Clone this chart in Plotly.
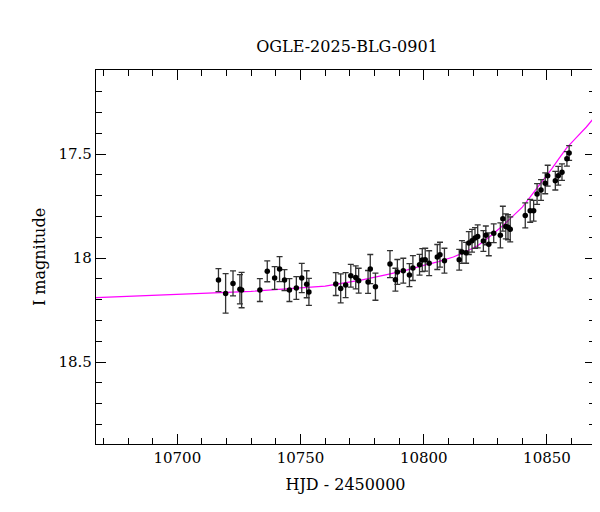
import plotly.graph_objects as go

# Photometry (HJD - 2450000, I mag, error)
hjd = [10716.7, 10719.6, 10722.6, 10725.4, 10726.1, 10733.5, 10736.5, 10739.5, 10741.5, 10743.5,
       10745.5, 10748.3, 10750.5, 10752.5, 10753.4, 10764.3, 10766.3, 10768.3, 10770.4, 10772.4,
       10773.6, 10777.4, 10778.3, 10780.4, 10786.3, 10788.5, 10789.3, 10791.7, 10794.2, 10795.6,
       10798.3, 10799.4, 10800.6, 10802.2, 10805.5, 10806.6, 10808.4, 10814.4, 10815.5, 10817.2,
       10818.3, 10819.6, 10820.8, 10821.9, 10824.2, 10825.2, 10826.4, 10828.4, 10831.1, 10832.1,
       10833.3, 10834.2, 10835.1, 10841.2, 10843.2, 10844.6, 10846.0, 10847.6, 10849.3, 10850.3,
       10853.4, 10854.6, 10856.1, 10858.1, 10859.0]
mag = [18.106, 18.170, 18.122, 18.150, 18.154, 18.154, 18.064, 18.096, 18.053, 18.106,
       18.154, 18.144, 18.096, 18.126, 18.163, 18.125, 18.146, 18.130, 18.085, 18.093,
       18.109, 18.115, 18.053, 18.138, 18.029, 18.104, 18.067, 18.061, 18.082, 18.048,
       18.032, 18.010, 18.008, 18.025, 17.995, 17.984, 18.013, 18.008, 17.971, 17.975,
       17.928, 17.917, 17.904, 17.896, 17.918, 17.891, 17.934, 17.881, 17.891, 17.811,
       17.848, 17.852, 17.862, 17.795, 17.773, 17.773, 17.692, 17.673, 17.641, 17.604,
       17.628, 17.604, 17.587, 17.523, 17.495]
err = [0.055, 0.095, 0.060, 0.070, 0.085, 0.055, 0.050, 0.055, 0.060, 0.050,
       0.055, 0.055, 0.070, 0.065, 0.065, 0.055, 0.070, 0.060, 0.055, 0.055,
       0.060, 0.055, 0.070, 0.065, 0.065, 0.055, 0.060, 0.060, 0.055, 0.060,
       0.050, 0.055, 0.055, 0.060, 0.060, 0.060, 0.060, 0.050, 0.055, 0.050,
       0.055, 0.055, 0.050, 0.055, 0.050, 0.045, 0.055, 0.045, 0.060, 0.060,
       0.060, 0.060, 0.060, 0.060, 0.055, 0.050, 0.050, 0.050, 0.050, 0.050,
       0.045, 0.045, 0.040, 0.035, 0.035]

# Model curve
model_hjd = [10667, 10700, 10730, 10760, 10775, 10785, 10793, 10800, 10806, 10812, 10817, 10822, 10827,
             10832.5, 10836, 10840, 10843, 10846, 10849, 10852, 10855, 10858, 10862, 10866, 10869.5]
model_mag = [18.19, 18.175, 18.16, 18.135, 18.105, 18.08, 18.058, 18.035, 18.017, 17.995, 17.97, 17.94, 17.895,
             17.84, 17.80, 17.755, 17.71, 17.665, 17.62, 17.57, 17.52, 17.47, 17.42, 17.37, 17.32]

fig = go.Figure()
fig.add_trace(go.Scatter(x=model_hjd, y=model_mag, mode='lines', line=dict(color='#ff00ff', width=1.2),
                         hoverinfo='skip'))
fig.add_trace(go.Scatter(x=hjd, y=mag, mode='markers', marker=dict(color='black', size=5.5),
                         error_y=dict(type='data', array=err, color='#333333', thickness=1.3, width=3)))

serif = 'DejaVu Serif'
axis = dict(showgrid=False, zeroline=False, showline=True, linecolor='black', linewidth=1.2, mirror='ticks',
            ticks='inside', ticklen=10, tickcolor='black', automargin=False,
            tickfont=dict(size=15, family=serif, color='black'))
fig.update_xaxes(range=[10667, 10869.5], dtick=50, tickformat='d',
                 minor=dict(dtick=10, ticks='inside', ticklen=6, tickcolor='black'),
                 title=dict(text='HJD - 2450000', standoff=12, font=dict(size=16, family=serif, color='black')), **axis)
fig.update_yaxes(range=[18.894, 17.096], tickvals=[17.5, 18, 18.5], ticktext=['17.5', '18', '18.5'],
                 minor=dict(dtick=0.1, ticks='inside', ticklen=6, tickcolor='black'),
                 title=dict(text='I magnitude', standoff=8, font=dict(size=16, family=serif, color='black')), **axis)
fig.update_layout(width=600, height=512, margin=dict(l=88, r=13, t=62, b=76), plot_bgcolor='white', paper_bgcolor='white',
                  showlegend=False,
                  title=dict(text='OGLE-2025-BLG-0901', x=0.565, y=0.935, xanchor='center',
                             font=dict(size=16, family=serif, color='black')))
fig.write_html("out.html")
